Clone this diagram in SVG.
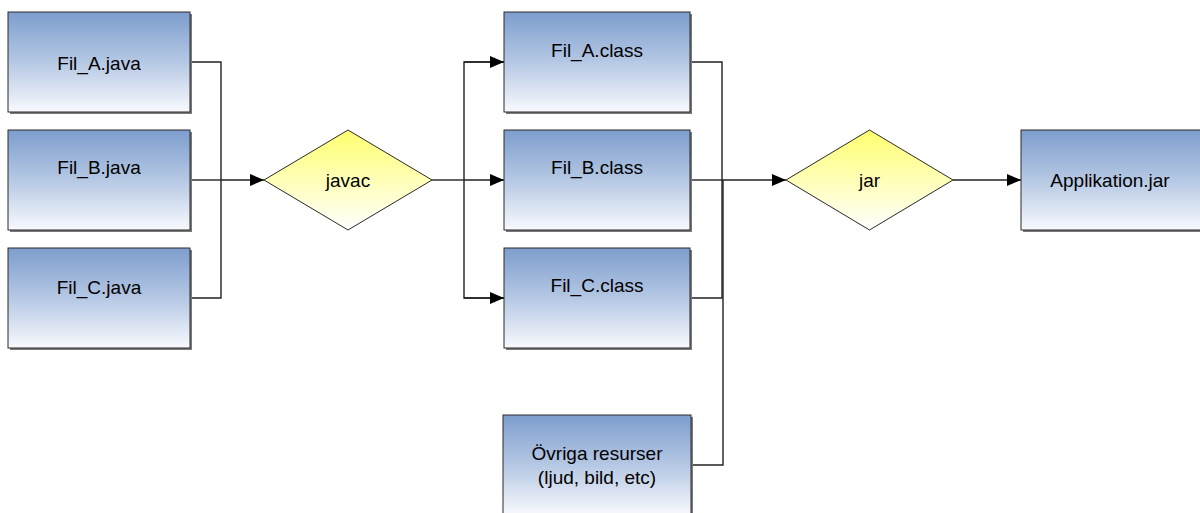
<svg xmlns="http://www.w3.org/2000/svg" width="1200" height="513" viewBox="0 0 1200 513">
<defs>
<linearGradient id="gBox" x1="0" y1="0" x2="0" y2="1">
<stop offset="0" stop-color="#7d9dcd"/>
<stop offset="0.5" stop-color="#b5c8e4"/>
<stop offset="1" stop-color="#f8f9fd"/>
</linearGradient>
<linearGradient id="gDia" x1="0" y1="0" x2="0" y2="1">
<stop offset="0" stop-color="#ffff70"/>
<stop offset="1" stop-color="#ffffff"/>
</linearGradient>
<marker id="arr" markerWidth="14" markerHeight="12" refX="14" refY="6" orient="auto" markerUnits="userSpaceOnUse">
<path d="M0,0 L14,6 L0,12 Z" fill="#000"/>
</marker>
</defs>
<style>
.box{fill:url(#gBox);stroke:#2a2a2a;stroke-width:1}
.shadow{fill:#7a7a7a}
.dia{fill:url(#gDia);stroke:#2a2a2a;stroke-width:1}
.t{font-family:"Liberation Sans",Arial,sans-serif;font-size:19px;fill:#000;text-anchor:middle}
.c{fill:none;stroke:#222;stroke-width:1.4}
</style>
<rect width="1200" height="513" fill="#fff"/>
<g id="connectors">
<polyline class="c" points="190,62 221,62 221,298 190,298"/>
<line class="c" x1="190" y1="180" x2="221" y2="180"/>
<line class="c" x1="221" y1="180" x2="264" y2="180" marker-end="url(#arr)"/>
<line class="c" x1="432" y1="180" x2="464" y2="180"/>
<polyline class="c" points="504,62 464,62 464,298 504,298"/>
<line class="c" x1="464" y1="62" x2="504" y2="62" marker-end="url(#arr)"/>
<line class="c" x1="464" y1="180" x2="504" y2="180" marker-end="url(#arr)"/>
<line class="c" x1="464" y1="298" x2="504" y2="298" marker-end="url(#arr)"/>
<polyline class="c" points="691,62 722,62 722,298 691,298"/>
<line class="c" x1="691" y1="180" x2="722" y2="180"/>
<polyline class="c" points="691,465 723,465 723,180"/>
<line class="c" x1="722" y1="180" x2="786" y2="180" marker-end="url(#arr)"/>
<line class="c" x1="953" y1="180" x2="1021" y2="180" marker-end="url(#arr)"/>
</g>
<g id="fil_a_java"><rect class="shadow" x="10" y="14" width="182" height="100"/><rect class="box" x="8" y="12" width="182" height="100"/><text class="t" x="99" y="70">Fil_A.java</text></g>
<g id="fil_b_java"><rect class="shadow" x="10" y="132" width="182" height="100"/><rect class="box" x="8" y="130" width="182" height="100"/><text class="t" x="99" y="174">Fil_B.java</text></g>
<g id="fil_c_java"><rect class="shadow" x="10" y="250" width="182" height="100"/><rect class="box" x="8" y="248" width="182" height="100"/><text class="t" x="99" y="294">Fil_C.java</text></g>
<g id="javac"><polygon class="dia" points="264,180 348,130 432,180 348,230"/><text class="t" x="348" y="187">javac</text></g>
<g id="fil_a_class"><rect class="shadow" x="506" y="14" width="186" height="100"/><rect class="box" x="504" y="12" width="186" height="100"/><text class="t" x="597" y="57">Fil_A.class</text></g>
<g id="fil_b_class"><rect class="shadow" x="506" y="132" width="186" height="100"/><rect class="box" x="504" y="130" width="186" height="100"/><text class="t" x="597" y="174">Fil_B.class</text></g>
<g id="fil_c_class"><rect class="shadow" x="506" y="250" width="186" height="100"/><rect class="box" x="504" y="248" width="186" height="100"/><text class="t" x="597" y="292">Fil_C.class</text></g>
<g id="ovriga"><rect class="shadow" x="505" y="417" width="188" height="100"/><rect class="box" x="503" y="415" width="188" height="100"/><text class="t" x="597" y="460">Övriga resurser</text><text class="t" x="597" y="484">(ljud, bild, etc)</text></g>
<g id="jar"><polygon class="dia" points="786,180 869.5,130 953,180 869.5,230"/><text class="t" x="869.5" y="187">jar</text></g>
<g id="applikation"><rect class="shadow" x="1023" y="132" width="180" height="100"/><rect class="box" x="1021" y="130" width="182" height="100"/><text class="t" x="1110" y="187">Applikation.jar</text></g>
</svg>
